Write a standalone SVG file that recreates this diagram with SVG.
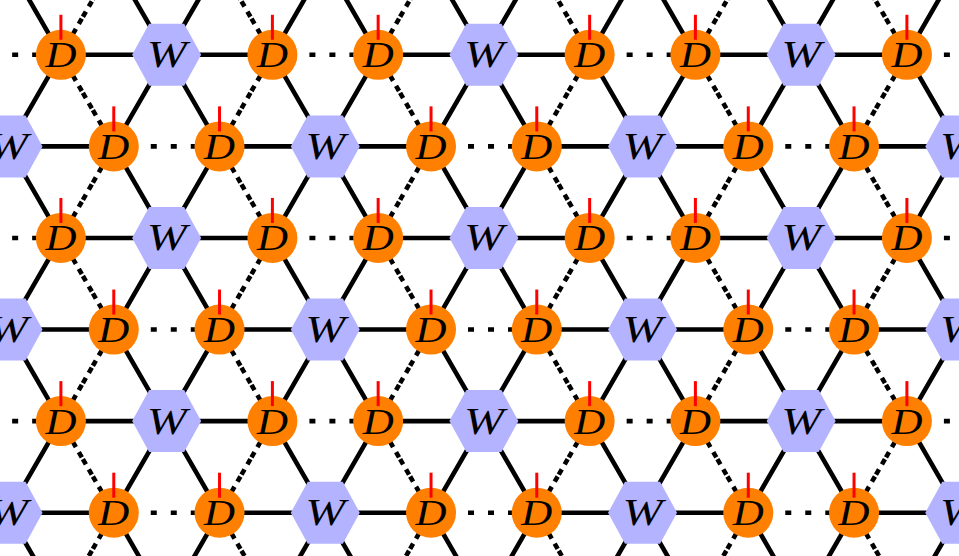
<svg xmlns="http://www.w3.org/2000/svg" xmlns:xlink="http://www.w3.org/1999/xlink" width="959" height="556" viewBox="0 0 959 556">
<style>
.ln{fill:none;stroke:#000;stroke-width:4.6}
.dt{stroke-dasharray:6 14}
.dh{stroke-dashoffset:3}
.dd{stroke-dashoffset:4.2}
.dfill{fill:#ff8000}
.leg{stroke:#ff0000;stroke-width:3}
.hfill{fill:#b3b3ff}
.lab{font-family:"Liberation Serif","DejaVu Serif",serif;font-style:italic;font-size:35px;text-anchor:middle;fill:#000}
.wl{font-size:37px}
</style>
<defs>
<path id="spokes" d="M-105.75 0H105.75M-52.875-91.58L52.875 91.58M52.875-91.58L-52.875 91.58"/>
<g id="ring"><path class="dh" d="M-52.875-91.58H52.875"/><path class="dd" d="M52.875-91.58L105.75 0M105.75 0L52.875 91.58M-52.875 91.58L-105.75 0M-105.75 0L-52.875-91.58"/></g>
<g id="dshape"><circle class="dfill" r="25"/><path class="leg" d="M0-40V-15"/></g>
<polygon id="hex" class="hfill" points="-34.5,0 -17.5,-31 17.5,-31 34.5,0 17.5,31 -17.5,31"/>
</defs>
<rect width="959" height="556" fill="#fff"/>
<g id="connectors">
<g class="ln">
<use href="#spokes" x="8.03" y="-36.78"/><use href="#spokes" x="325.28" y="-36.78"/><use href="#spokes" x="642.53" y="-36.78"/><use href="#spokes" x="959.78" y="-36.78"/>
<use href="#spokes" x="166.65" y="54.8"/><use href="#spokes" x="483.9" y="54.8"/><use href="#spokes" x="801.15" y="54.8"/>
<use href="#spokes" x="8.03" y="146.38"/><use href="#spokes" x="325.28" y="146.38"/><use href="#spokes" x="642.53" y="146.38"/><use href="#spokes" x="959.78" y="146.38"/>
<use href="#spokes" x="166.65" y="237.96"/><use href="#spokes" x="483.9" y="237.96"/><use href="#spokes" x="801.15" y="237.96"/>
<use href="#spokes" x="8.03" y="329.54"/><use href="#spokes" x="325.28" y="329.54"/><use href="#spokes" x="642.53" y="329.54"/><use href="#spokes" x="959.78" y="329.54"/>
<use href="#spokes" x="166.65" y="421.12"/><use href="#spokes" x="483.9" y="421.12"/><use href="#spokes" x="801.15" y="421.12"/>
<use href="#spokes" x="8.03" y="512.7"/><use href="#spokes" x="325.28" y="512.7"/><use href="#spokes" x="642.53" y="512.7"/><use href="#spokes" x="959.78" y="512.7"/>
<use href="#spokes" x="166.65" y="604.28"/><use href="#spokes" x="483.9" y="604.28"/><use href="#spokes" x="801.15" y="604.28"/>
</g>
<g class="ln dt">
<use href="#ring" x="8.03" y="-36.78"/><use href="#ring" x="325.28" y="-36.78"/><use href="#ring" x="642.53" y="-36.78"/><use href="#ring" x="959.78" y="-36.78"/>
<use href="#ring" x="166.65" y="54.8"/><use href="#ring" x="483.9" y="54.8"/><use href="#ring" x="801.15" y="54.8"/>
<use href="#ring" x="8.03" y="146.38"/><use href="#ring" x="325.28" y="146.38"/><use href="#ring" x="642.53" y="146.38"/><use href="#ring" x="959.78" y="146.38"/>
<use href="#ring" x="166.65" y="237.96"/><use href="#ring" x="483.9" y="237.96"/><use href="#ring" x="801.15" y="237.96"/>
<use href="#ring" x="8.03" y="329.54"/><use href="#ring" x="325.28" y="329.54"/><use href="#ring" x="642.53" y="329.54"/><use href="#ring" x="959.78" y="329.54"/>
<use href="#ring" x="166.65" y="421.12"/><use href="#ring" x="483.9" y="421.12"/><use href="#ring" x="801.15" y="421.12"/>
<use href="#ring" x="8.03" y="512.7"/><use href="#ring" x="325.28" y="512.7"/><use href="#ring" x="642.53" y="512.7"/><use href="#ring" x="959.78" y="512.7"/>
<use href="#ring" x="166.65" y="604.28"/><use href="#ring" x="483.9" y="604.28"/><use href="#ring" x="801.15" y="604.28"/>
</g>
</g>
<g id="nodes">
<g id="r0-D1" transform="translate(60.9 54.8)"><use href="#dshape"/><text class="lab" y="12.5" textLength="31" lengthAdjust="spacingAndGlyphs">D</text></g>
<g id="r0-W1" transform="translate(166.65 54.8)"><use href="#hex"/><text class="lab wl" y="12.5" textLength="40" lengthAdjust="spacingAndGlyphs">W</text></g>
<g id="r0-D2" transform="translate(272.4 54.8)"><use href="#dshape"/><text class="lab" y="12.5" textLength="31" lengthAdjust="spacingAndGlyphs">D</text></g>
<g id="r0-D3" transform="translate(378.15 54.8)"><use href="#dshape"/><text class="lab" y="12.5" textLength="31" lengthAdjust="spacingAndGlyphs">D</text></g>
<g id="r0-W2" transform="translate(483.9 54.8)"><use href="#hex"/><text class="lab wl" y="12.5" textLength="40" lengthAdjust="spacingAndGlyphs">W</text></g>
<g id="r0-D4" transform="translate(589.65 54.8)"><use href="#dshape"/><text class="lab" y="12.5" textLength="31" lengthAdjust="spacingAndGlyphs">D</text></g>
<g id="r0-D5" transform="translate(695.4 54.8)"><use href="#dshape"/><text class="lab" y="12.5" textLength="31" lengthAdjust="spacingAndGlyphs">D</text></g>
<g id="r0-W3" transform="translate(801.15 54.8)"><use href="#hex"/><text class="lab wl" y="12.5" textLength="40" lengthAdjust="spacingAndGlyphs">W</text></g>
<g id="r0-D6" transform="translate(906.9 54.8)"><use href="#dshape"/><text class="lab" y="12.5" textLength="31" lengthAdjust="spacingAndGlyphs">D</text></g>

<g id="r1-W1" transform="translate(8.03 146.38)"><use href="#hex"/><text class="lab wl" y="12.5" textLength="40" lengthAdjust="spacingAndGlyphs">W</text></g>
<g id="r1-D1" transform="translate(113.78 146.38)"><use href="#dshape"/><text class="lab" y="12.5" textLength="31" lengthAdjust="spacingAndGlyphs">D</text></g>
<g id="r1-D2" transform="translate(219.53 146.38)"><use href="#dshape"/><text class="lab" y="12.5" textLength="31" lengthAdjust="spacingAndGlyphs">D</text></g>
<g id="r1-W2" transform="translate(325.28 146.38)"><use href="#hex"/><text class="lab wl" y="12.5" textLength="40" lengthAdjust="spacingAndGlyphs">W</text></g>
<g id="r1-D3" transform="translate(431.03 146.38)"><use href="#dshape"/><text class="lab" y="12.5" textLength="31" lengthAdjust="spacingAndGlyphs">D</text></g>
<g id="r1-D4" transform="translate(536.78 146.38)"><use href="#dshape"/><text class="lab" y="12.5" textLength="31" lengthAdjust="spacingAndGlyphs">D</text></g>
<g id="r1-W3" transform="translate(642.53 146.38)"><use href="#hex"/><text class="lab wl" y="12.5" textLength="40" lengthAdjust="spacingAndGlyphs">W</text></g>
<g id="r1-D5" transform="translate(748.28 146.38)"><use href="#dshape"/><text class="lab" y="12.5" textLength="31" lengthAdjust="spacingAndGlyphs">D</text></g>
<g id="r1-D6" transform="translate(854.03 146.38)"><use href="#dshape"/><text class="lab" y="12.5" textLength="31" lengthAdjust="spacingAndGlyphs">D</text></g>
<g id="r1-W4" transform="translate(959.78 146.38)"><use href="#hex"/><text class="lab wl" y="12.5" textLength="40" lengthAdjust="spacingAndGlyphs">W</text></g>

<g id="r2-D1" transform="translate(60.9 237.96)"><use href="#dshape"/><text class="lab" y="12.5" textLength="31" lengthAdjust="spacingAndGlyphs">D</text></g>
<g id="r2-W1" transform="translate(166.65 237.96)"><use href="#hex"/><text class="lab wl" y="12.5" textLength="40" lengthAdjust="spacingAndGlyphs">W</text></g>
<g id="r2-D2" transform="translate(272.4 237.96)"><use href="#dshape"/><text class="lab" y="12.5" textLength="31" lengthAdjust="spacingAndGlyphs">D</text></g>
<g id="r2-D3" transform="translate(378.15 237.96)"><use href="#dshape"/><text class="lab" y="12.5" textLength="31" lengthAdjust="spacingAndGlyphs">D</text></g>
<g id="r2-W2" transform="translate(483.9 237.96)"><use href="#hex"/><text class="lab wl" y="12.5" textLength="40" lengthAdjust="spacingAndGlyphs">W</text></g>
<g id="r2-D4" transform="translate(589.65 237.96)"><use href="#dshape"/><text class="lab" y="12.5" textLength="31" lengthAdjust="spacingAndGlyphs">D</text></g>
<g id="r2-D5" transform="translate(695.4 237.96)"><use href="#dshape"/><text class="lab" y="12.5" textLength="31" lengthAdjust="spacingAndGlyphs">D</text></g>
<g id="r2-W3" transform="translate(801.15 237.96)"><use href="#hex"/><text class="lab wl" y="12.5" textLength="40" lengthAdjust="spacingAndGlyphs">W</text></g>
<g id="r2-D6" transform="translate(906.9 237.96)"><use href="#dshape"/><text class="lab" y="12.5" textLength="31" lengthAdjust="spacingAndGlyphs">D</text></g>

<g id="r3-W1" transform="translate(8.03 329.54)"><use href="#hex"/><text class="lab wl" y="12.5" textLength="40" lengthAdjust="spacingAndGlyphs">W</text></g>
<g id="r3-D1" transform="translate(113.78 329.54)"><use href="#dshape"/><text class="lab" y="12.5" textLength="31" lengthAdjust="spacingAndGlyphs">D</text></g>
<g id="r3-D2" transform="translate(219.53 329.54)"><use href="#dshape"/><text class="lab" y="12.5" textLength="31" lengthAdjust="spacingAndGlyphs">D</text></g>
<g id="r3-W2" transform="translate(325.28 329.54)"><use href="#hex"/><text class="lab wl" y="12.5" textLength="40" lengthAdjust="spacingAndGlyphs">W</text></g>
<g id="r3-D3" transform="translate(431.03 329.54)"><use href="#dshape"/><text class="lab" y="12.5" textLength="31" lengthAdjust="spacingAndGlyphs">D</text></g>
<g id="r3-D4" transform="translate(536.78 329.54)"><use href="#dshape"/><text class="lab" y="12.5" textLength="31" lengthAdjust="spacingAndGlyphs">D</text></g>
<g id="r3-W3" transform="translate(642.53 329.54)"><use href="#hex"/><text class="lab wl" y="12.5" textLength="40" lengthAdjust="spacingAndGlyphs">W</text></g>
<g id="r3-D5" transform="translate(748.28 329.54)"><use href="#dshape"/><text class="lab" y="12.5" textLength="31" lengthAdjust="spacingAndGlyphs">D</text></g>
<g id="r3-D6" transform="translate(854.03 329.54)"><use href="#dshape"/><text class="lab" y="12.5" textLength="31" lengthAdjust="spacingAndGlyphs">D</text></g>
<g id="r3-W4" transform="translate(959.78 329.54)"><use href="#hex"/><text class="lab wl" y="12.5" textLength="40" lengthAdjust="spacingAndGlyphs">W</text></g>

<g id="r4-D1" transform="translate(60.9 421.12)"><use href="#dshape"/><text class="lab" y="12.5" textLength="31" lengthAdjust="spacingAndGlyphs">D</text></g>
<g id="r4-W1" transform="translate(166.65 421.12)"><use href="#hex"/><text class="lab wl" y="12.5" textLength="40" lengthAdjust="spacingAndGlyphs">W</text></g>
<g id="r4-D2" transform="translate(272.4 421.12)"><use href="#dshape"/><text class="lab" y="12.5" textLength="31" lengthAdjust="spacingAndGlyphs">D</text></g>
<g id="r4-D3" transform="translate(378.15 421.12)"><use href="#dshape"/><text class="lab" y="12.5" textLength="31" lengthAdjust="spacingAndGlyphs">D</text></g>
<g id="r4-W2" transform="translate(483.9 421.12)"><use href="#hex"/><text class="lab wl" y="12.5" textLength="40" lengthAdjust="spacingAndGlyphs">W</text></g>
<g id="r4-D4" transform="translate(589.65 421.12)"><use href="#dshape"/><text class="lab" y="12.5" textLength="31" lengthAdjust="spacingAndGlyphs">D</text></g>
<g id="r4-D5" transform="translate(695.4 421.12)"><use href="#dshape"/><text class="lab" y="12.5" textLength="31" lengthAdjust="spacingAndGlyphs">D</text></g>
<g id="r4-W3" transform="translate(801.15 421.12)"><use href="#hex"/><text class="lab wl" y="12.5" textLength="40" lengthAdjust="spacingAndGlyphs">W</text></g>
<g id="r4-D6" transform="translate(906.9 421.12)"><use href="#dshape"/><text class="lab" y="12.5" textLength="31" lengthAdjust="spacingAndGlyphs">D</text></g>

<g id="r5-W1" transform="translate(8.03 512.7)"><use href="#hex"/><text class="lab wl" y="12.5" textLength="40" lengthAdjust="spacingAndGlyphs">W</text></g>
<g id="r5-D1" transform="translate(113.78 512.7)"><use href="#dshape"/><text class="lab" y="12.5" textLength="31" lengthAdjust="spacingAndGlyphs">D</text></g>
<g id="r5-D2" transform="translate(219.53 512.7)"><use href="#dshape"/><text class="lab" y="12.5" textLength="31" lengthAdjust="spacingAndGlyphs">D</text></g>
<g id="r5-W2" transform="translate(325.28 512.7)"><use href="#hex"/><text class="lab wl" y="12.5" textLength="40" lengthAdjust="spacingAndGlyphs">W</text></g>
<g id="r5-D3" transform="translate(431.03 512.7)"><use href="#dshape"/><text class="lab" y="12.5" textLength="31" lengthAdjust="spacingAndGlyphs">D</text></g>
<g id="r5-D4" transform="translate(536.78 512.7)"><use href="#dshape"/><text class="lab" y="12.5" textLength="31" lengthAdjust="spacingAndGlyphs">D</text></g>
<g id="r5-W3" transform="translate(642.53 512.7)"><use href="#hex"/><text class="lab wl" y="12.5" textLength="40" lengthAdjust="spacingAndGlyphs">W</text></g>
<g id="r5-D5" transform="translate(748.28 512.7)"><use href="#dshape"/><text class="lab" y="12.5" textLength="31" lengthAdjust="spacingAndGlyphs">D</text></g>
<g id="r5-D6" transform="translate(854.03 512.7)"><use href="#dshape"/><text class="lab" y="12.5" textLength="31" lengthAdjust="spacingAndGlyphs">D</text></g>
<g id="r5-W4" transform="translate(959.78 512.7)"><use href="#hex"/><text class="lab wl" y="12.5" textLength="40" lengthAdjust="spacingAndGlyphs">W</text></g>
</g>
</svg>
